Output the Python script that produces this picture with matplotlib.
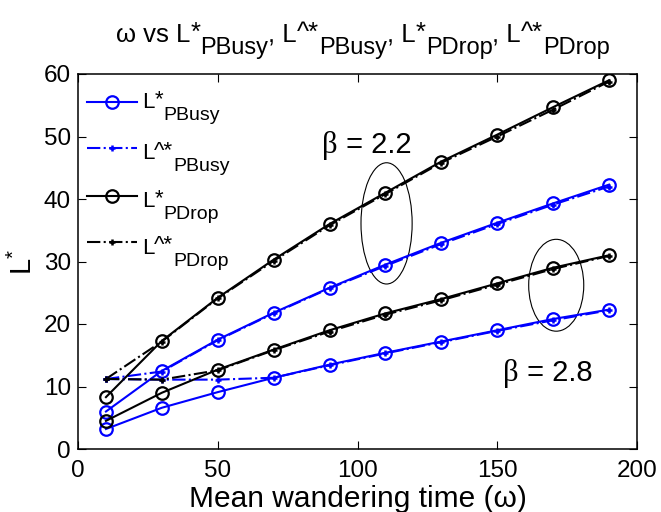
import matplotlib
matplotlib.use("Agg")
import matplotlib.pyplot as plt
from matplotlib.patches import Ellipse
from matplotlib.transforms import offset_copy

plt.rcParams['font.family'] = ['Liberation Sans', 'DejaVu Sans']
plt.rcParams['mathtext.fontset'] = 'custom'
plt.rcParams['mathtext.rm'] = 'Liberation Sans'
plt.rcParams['mathtext.it'] = 'Liberation Sans'

omega = [10, 30, 50, 70, 90, 110, 130, 150, 170, 190]

# beta = 2.2
pbusy_22 = [6.0, 12.5, 17.5, 21.8, 25.8, 29.5, 33.0, 36.2, 39.3, 42.3]
pbusy_22_hat = [11.2, 12.4, 17.4, 21.7, 25.7, 29.3, 32.8, 36.0, 39.1, 42.0]
pdrop_22 = [8.3, 17.3, 24.2, 30.3, 36.0, 41.0, 46.0, 50.3, 54.7, 59.0]
pdrop_22_hat = [11.2, 17.2, 24.1, 30.1, 35.8, 40.8, 45.8, 50.0, 54.3, 58.8]
# beta = 2.8
pbusy_28 = [3.2, 6.6, 9.1, 11.4, 13.5, 15.4, 17.2, 19.0, 20.8, 22.3]
pbusy_28_hat = [11.2, 11.1, 11.1, 11.4, 13.4, 15.3, 17.1, 18.9, 20.6, 22.2]
pdrop_28 = [4.5, 9.0, 12.7, 15.9, 19.0, 21.7, 24.0, 26.5, 29.0, 31.0]
pdrop_28_hat = [11.2, 11.1, 12.6, 15.8, 18.8, 21.5, 23.8, 26.3, 28.8, 30.9]

x_ticks = [0, 50, 100, 150, 200]
y_ticks = [0, 10, 20, 30, 40, 50, 60]

W, H, DPI = 661, 512, 100
fig = plt.figure(figsize=(W / DPI, H / DPI), dpi=DPI)
ax = fig.add_axes([78 / W, 1 - 449 / H, (637 - 78) / W, (449 - 74) / H])
renderer = fig.canvas.get_renderer()


def rich(x, y, parts, transform, artist=fig, center=False):
    """parts: (text, size, dy_points, family)"""
    def draw(shift):
        dx = shift
        out = []
        for s, size, dy, fam in parts:
            t = artist.text(x, y, s, fontsize=size, family=fam, ha='left', va='baseline',
                            transform=offset_copy(transform, fig=fig, x=dx, y=dy, units='points'))
            dx += t.get_window_extent(renderer).width * 72 / DPI
            out.append(t)
        return out, dx - shift
    texts, width = draw(0)
    if center:
        for t in texts:
            t.remove()
        texts, width = draw(-width / 2)
    return texts


blue = '#0000ff'
lw = 1.5
circ = dict(marker='o', markersize=9, markerfacecolor='none', markeredgewidth=1.6)
plus = dict(marker='+', markersize=5, markeredgewidth=1.8)

h1, = ax.plot(omega, pbusy_22, '-', color=blue, lw=lw, **circ)
h2, = ax.plot(omega, pbusy_22_hat, '-.', color=blue, lw=lw, **plus)
h3, = ax.plot(omega, pdrop_22, '-', color='k', lw=lw, **circ)
h4, = ax.plot(omega, pdrop_22_hat, '-.', color='k', lw=lw, **plus)
ax.plot(omega, pbusy_28, '-', color=blue, lw=lw, **circ)
ax.plot(omega, pbusy_28_hat, '-.', color=blue, lw=lw, **plus)
ax.plot(omega, pdrop_28, '-', color='k', lw=lw, **circ)
ax.plot(omega, pdrop_28_hat, '-.', color='k', lw=lw, **plus)

ax.add_patch(Ellipse((110.4, 36.1), 18.3, 19.4, fill=False, edgecolor='k', lw=0.8))
ax.add_patch(Ellipse((171.1, 26.2), 19.7, 14.7, fill=False, edgecolor='k', lw=0.8))

SANS = ['Liberation Sans', 'DejaVu Sans']
SERIF = ['Liberation Serif', 'DejaVu Serif']
rich(87.3, 47.4, [('β', 22, 0, SERIF), (' = 2.2', 21, 0, SANS)], ax.transData, artist=ax)
rich(152.1, 10.9, [('β', 22, 0, SERIF), (' = 2.8', 21, 0, SANS)], ax.transData, artist=ax)

ax.set_xlim(0, 200)
ax.set_ylim(0, 60)
ax.set_xticks(x_ticks)
ax.set_yticks(y_ticks)
ax.tick_params(direction='in', top=True, right=True, labelsize=17.5, length=6, width=0.8)
ax.tick_params(axis='x', pad=8)
ax.tick_params(axis='y', pad=5)
for s in ax.spines.values():
    s.set_linewidth(1.1)

ax.set_xlabel('Mean wandering time (ω)', fontsize=21.5, labelpad=2)
ax.set_ylabel(r'L$^{*}$', fontsize=21, labelpad=4)

# title
T, S, R, D = 18.5, 17, 1.5, -9
title_parts = [('ω vs L', T, 0, SANS), ('*', T, R, SANS), ('PBusy', S, D, SANS),
               (', L', T, 0, SANS), ('^*', T, R, SANS), ('PBusy', S, D, SANS),
               (', L', T, 0, SANS), ('*', T, R, SANS), ('PDrop', S, D, SANS),
               (', L', T, 0, SANS), ('^*', T, R, SANS), ('PDrop', S, D, SANS)]
rich(363 / W, 1 - 41.7 / H, title_parts, fig.transFigure, center=True)

# legend
handles = [h1, h2, h3, h4]
handle_y = [102.7, 149.3, 196.7, 243.3]
label_base = [108.3, 159.3, 206.7, 254.0]
label_parts = [
    [('L', 16, 0, SANS), ('*', 16, 2, SANS), ('PBusy', 14, -8.6, SANS)],
    [('L', 16, 0, SANS), ('^*', 16, 2, SANS), ('PBusy', 14, -8.6, SANS)],
    [('L', 16, 0, SANS), ('*', 16, 2, SANS), ('PDrop', 14, -8.6, SANS)],
    [('L', 16, 0, SANS), ('^*', 16, 2, SANS), ('PDrop', 14, -8.6, SANS)],
]
for h, hy, by, parts in zip(handles, handle_y, label_base, label_parts):
    fig.legend(handles=[h], labels=[''], loc='center left',
               bbox_to_anchor=(87 / W, 1 - hy / H), bbox_transform=fig.transFigure,
               frameon=False, fontsize=10, handlelength=3.6, handletextpad=0,
               borderpad=0, borderaxespad=0, numpoints=1)
    rich(142 / W, 1 - by / H, parts, fig.transFigure)

fig.savefig('out.png', dpi=DPI)
